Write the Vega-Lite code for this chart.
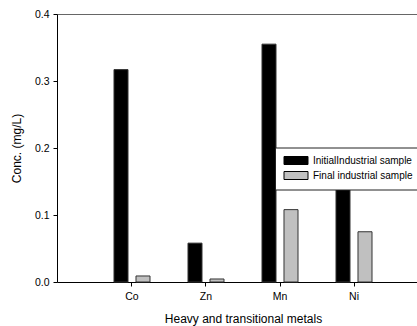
{
  "$schema": "https://vega.github.io/schema/vega-lite/v6.json",
  "width": 360,
  "height": 268,
  "autosize": {"type": "none"},
  "padding": {"left": 57, "top": 14, "right": 0, "bottom": 44},
  "background": "white",
  "config": {
    "view": {"stroke": null},
    "font": "Liberation Sans",
    "axis": {
      "labelFont": "Liberation Sans",
      "titleFont": "Liberation Sans",
      "labelColor": "black",
      "titleColor": "black",
      "domainColor": "black",
      "tickColor": "black",
      "titleFontWeight": "normal",
      "titleFontSize": 12,
      "labelFontSize": 10.5,
      "tickSize": 4
    },
    "legend": {
      "labelFont": "Liberation Sans"
    }
  },
  "data": {
    "values": [
      {"metal": "Co", "sample": "InitialIndustrial sample", "conc": 0.317},
      {"metal": "Co", "sample": "Final industrial sample", "conc": 0.009},
      {"metal": "Zn", "sample": "InitialIndustrial sample", "conc": 0.058},
      {"metal": "Zn", "sample": "Final industrial sample", "conc": 0.0045},
      {"metal": "Mn", "sample": "InitialIndustrial sample", "conc": 0.355},
      {"metal": "Mn", "sample": "Final industrial sample", "conc": 0.108},
      {"metal": "Ni", "sample": "InitialIndustrial sample", "conc": 0.17},
      {"metal": "Ni", "sample": "Final industrial sample", "conc": 0.075}
    ]
  },
  "mark": {"type": "bar", "stroke": "#333", "strokeWidth": 1},
  "encoding": {
    "x": {
      "field": "metal",
      "type": "nominal",
      "sort": ["Co", "Zn", "Mn", "Ni"],
      "scale": {"paddingInner": 0, "paddingOuter": 0.43243, "align": 0.59375},
      "axis": {
        "title": "Heavy and transitional metals",
        "labelAngle": 0,
        "labelPadding": 5,
        "titlePadding": 12,
        "titleX": 186
      }
    },
    "xOffset": {
      "field": "sample",
      "type": "nominal",
      "sort": ["InitialIndustrial sample", "Final industrial sample"],
      "scale": {"paddingInner": 0.3636, "paddingOuter": 0.8636}
    },
    "y": {
      "field": "conc",
      "type": "quantitative",
      "scale": {"domain": [0, 0.4], "nice": false},
      "axis": {
        "title": "Conc. (mg/L)",
        "values": [0, 0.1, 0.2, 0.3, 0.4],
        "format": ".1f",
        "labelPadding": 4,
        "titlePadding": 11,
        "grid": true,
        "gridColor": {"condition": {"test": "datum.value >= 0.399", "value": "#666"}, "value": "transparent"},
        "gridWidth": 1.2
      }
    },
    "color": {
      "field": "sample",
      "type": "nominal",
      "scale": {
        "domain": ["InitialIndustrial sample", "Final industrial sample"],
        "range": ["black", "#c0c0c0"]
      },
      "legend": {
        "title": null,
        "orient": "none",
        "legendX": 218,
        "legendY": 133.5,
        "padding": 8,
        "fillColor": "white",
        "strokeColor": "#222",
        "symbolType": "M-1,-1H5V1H-1Z",
        "symbolSize": 64,
        "symbolStrokeColor": "black",
        "symbolStrokeWidth": 1,
        "labelFontSize": 10,
        "labelColor": "black",
        "labelOffset": 20,
        "labelLimit": 400,
        "rowPadding": 3
      }
    }
  }
}
